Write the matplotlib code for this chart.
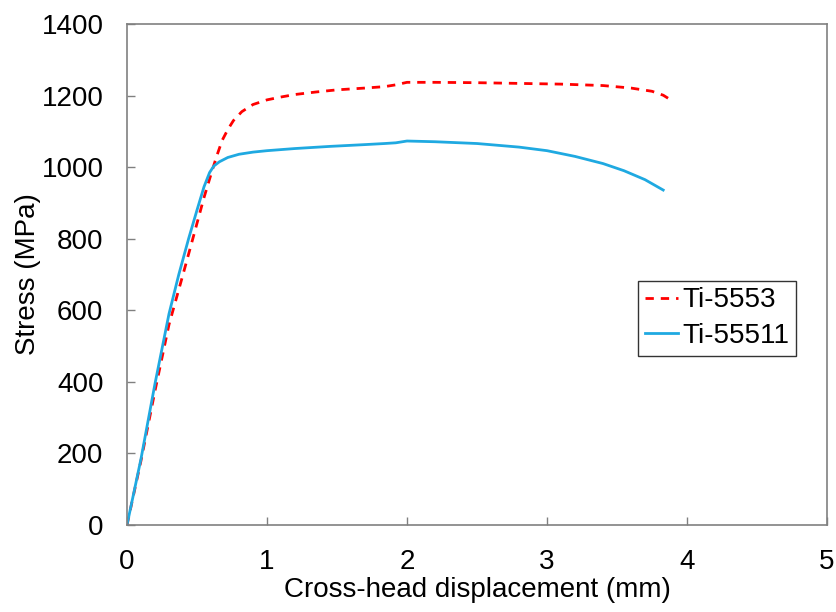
import matplotlib
matplotlib.use("Agg")
from matplotlib import pyplot as plt

plt.rcParams["font.family"] = ["Liberation Sans", "DejaVu Sans"]

# Ti-5553 (rojo discontinuo)
x_5553 = [0, 0.1, 0.2, 0.3, 0.4, 0.47, 0.55, 0.6, 0.64, 0.68, 0.72, 0.76, 0.82, 0.9, 1.0, 1.1,
          1.2, 1.35, 1.5, 1.7, 1.84, 1.92, 2.0, 2.2, 2.5, 2.8, 3.1, 3.4, 3.6, 3.75, 3.83, 3.9]
y_5553 = [0, 180, 375, 560, 700, 800, 915, 980, 1030, 1075, 1105, 1130, 1155, 1175, 1188, 1196,
          1203, 1210, 1216, 1221, 1225, 1230, 1237, 1237, 1236, 1234, 1232, 1228, 1221, 1212, 1201, 1184]

# Ti-55511 (azul continuo)
x_55511 = [0, 0.1, 0.2, 0.3, 0.37, 0.44, 0.5, 0.55, 0.59, 0.62, 0.66, 0.72, 0.8, 0.9, 1.0,
           1.2, 1.45, 1.7, 1.84, 1.92, 2.0, 2.2, 2.5, 2.8, 3.0, 3.2, 3.4, 3.55, 3.7, 3.83]
y_55511 = [0, 185, 395, 590, 700, 800, 880, 945, 985, 1003, 1015, 1027, 1036, 1042, 1046,
           1052, 1058, 1063, 1066, 1068, 1073, 1071, 1066, 1056, 1046, 1030, 1010, 990, 965, 936]

fig, ax = plt.subplots(figsize=(8.36, 6.12), dpi=100)
ax.plot(x_5553, y_5553, color="#ff0000", linestyle=(0, (3, 2.5)), linewidth=2, label="Ti-5553")
ax.plot(x_55511, y_55511, color="#1fa9e1", linewidth=2, label="Ti-55511")

ax.set_xlim(0, 5)
ax.set_ylim(0, 1400)
ax.set_xticks([0, 1, 2, 3, 4, 5])
ax.set_yticks([0, 200, 400, 600, 800, 1000, 1200, 1400])
ax.tick_params(direction="in", length=6, width=1, color="#808080", labelsize=20, pad=17)
for lado in ax.spines.values():
    lado.set_color("#808080")
    lado.set_linewidth(1.2)
ax.set_xlabel("Cross-head displacement (mm)", fontsize=20, labelpad=2)
ax.set_ylabel("Stress (MPa)", fontsize=20, labelpad=0)

leyenda = ax.legend(loc="lower left", bbox_to_anchor=(0.73, 0.337), fontsize=20, frameon=True,
                    fancybox=False, edgecolor="black", handlelength=1.2, handletextpad=0.15,
                    borderpad=0.25, labelspacing=0.35, borderaxespad=0)
leyenda.get_frame().set_linewidth(1)

fig.subplots_adjust(left=127 / 836, right=827 / 836, bottom=1 - 525 / 612, top=1 - 24 / 612)
fig.savefig("out.png", dpi=100)
plt.close(fig)
